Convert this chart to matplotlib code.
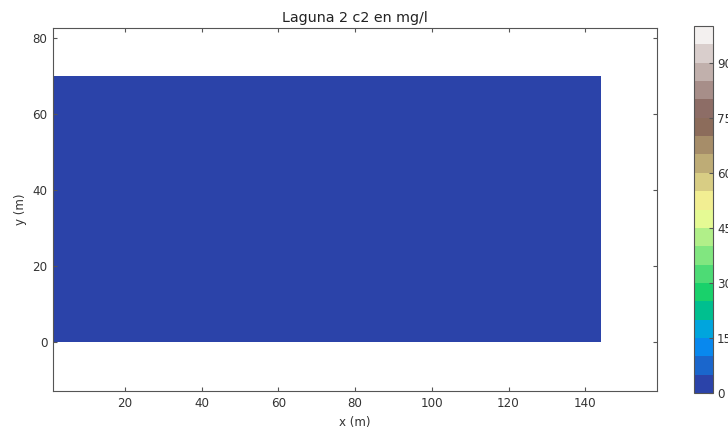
import numpy as np
import matplotlib
matplotlib.use("Agg")
import matplotlib.pyplot as plt

# Lagoon grid (m) and c2 concentration (mg/l) on it
x_nodes = [1, 144]
y_nodes = [0, 70]
c2_values = [[0.0, 0.0],
             [0.0, 0.0]]

levels = np.arange(0, 101, 5)
cbar_ticks = [0, 15, 30, 45, 60, 75, 90]

fig = plt.figure(figsize=(7.28, 4.30), dpi=100)
ax = fig.add_axes([0.0728, 0.0907, 0.8297, 0.8442])
cax = fig.add_axes([0.9533, 0.086, 0.0261, 0.8535])

X, Y = np.meshgrid(x_nodes, y_nodes)
cs = ax.contourf(X, Y, np.array(c2_values), levels=levels, cmap="terrain")

ax.set_xlim(1.3, 158.7)
ax.set_ylim(-12.8, 82.5)
ax.set_xticks([20, 40, 60, 80, 100, 120, 140])
ax.set_yticks([0, 20, 40, 60, 80])
ax.tick_params(direction="in", top=True, right=True, labelsize=8.6, length=3,
               color="#555555", labelcolor="#333333", pad=4)
for s in ax.spines.values():
    s.set_color("#555555")
ax.set_xlabel("x (m)", fontsize=8.6, color="#333333", labelpad=5)
ax.set_ylabel("y (m)", fontsize=8.6, color="#333333")
ax.set_title("Laguna 2 c2 en mg/l", fontsize=10.3, color="#222222", pad=4)

cb = fig.colorbar(cs, cax=cax, ticks=cbar_ticks)
cb.ax.tick_params(labelsize=8.6, direction="in", length=3, color="#555555",
                  labelcolor="#333333", pad=3)
cb.outline.set_edgecolor("#555555")

fig.savefig("out.png", dpi=100)
